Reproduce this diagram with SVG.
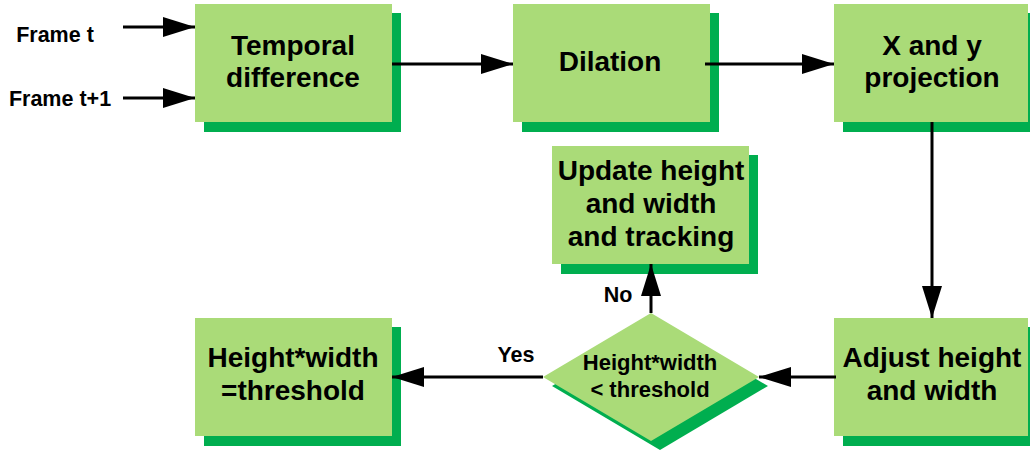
<svg xmlns="http://www.w3.org/2000/svg" width="1030" height="452" viewBox="0 0 1030 452">
  <defs>
    <style>
      .box { fill: #AADB78; }
      .shadow { fill: #00AE4F; }
      .lbl { font-family: "Liberation Sans", Arial, sans-serif; font-weight: bold; fill: #000; text-anchor: middle; }
      .big { font-size: 28px; }
      .mid { font-size: 22px; }
      .small { font-size: 21.5px; }
      .wire { stroke: #000; stroke-width: 3; fill: none; marker-end: url(#head); }
    </style>
    <marker id="head" markerUnits="userSpaceOnUse" markerWidth="32" markerHeight="20" refX="32" refY="10" orient="auto">
      <path d="M0,0 L32,10 L0,20 Z" fill="#000"/>
    </marker>
  </defs>

  <rect width="1030" height="452" fill="#fff"/>

  <!-- input labels -->
  <text class="lbl small" x="55" y="42">Frame t</text>
  <text class="lbl small" x="60" y="106">Frame t+1</text>

  <g id="temporal">
    <rect class="shadow" x="204" y="13" width="197" height="119"/>
    <rect class="box" x="195" y="4" width="197" height="118"/>
    <text class="lbl big" x="293" y="55">Temporal</text>
    <text class="lbl big" x="293" y="87">difference</text>
  </g>

  <g id="dilation">
    <rect class="shadow" x="522" y="13" width="197" height="119"/>
    <rect class="box" x="513" y="4" width="197" height="118"/>
    <text class="lbl big" x="610" y="71">Dilation</text>
  </g>

  <g id="projection">
    <rect class="shadow" x="843" y="13" width="197" height="119"/>
    <rect class="box" x="834" y="4" width="194" height="118"/>
    <text class="lbl big" x="932" y="55">X and y</text>
    <text class="lbl big" x="932" y="87">projection</text>
  </g>

  <g id="update">
    <rect class="shadow" x="561" y="155" width="197" height="119"/>
    <rect class="box" x="552" y="146" width="197" height="118"/>
    <text class="lbl big" x="651" y="180">Update height</text>
    <text class="lbl big" x="651" y="213">and width</text>
    <text class="lbl big" x="651" y="246">and tracking</text>
  </g>

  <g id="decision">
    <polygon class="shadow" points="660,322 768,386 660,450 552,386"/>
    <polygon class="box" points="651,313 759,377 651,441 543,377"/>
    <text class="lbl mid" x="650" y="370">Height*width</text>
    <text class="lbl mid" x="650" y="397">&lt; threshold</text>
  </g>

  <g id="threshold">
    <rect class="shadow" x="204" y="327" width="197" height="119"/>
    <rect class="box" x="195" y="318" width="197" height="118"/>
    <text class="lbl big" x="293" y="367">Height*width</text>
    <text class="lbl big" x="293" y="400">=threshold</text>
  </g>

  <g id="adjust">
    <rect class="shadow" x="843" y="327" width="197" height="119"/>
    <rect class="box" x="834" y="318" width="194" height="118"/>
    <text class="lbl big" x="932" y="367">Adjust height</text>
    <text class="lbl big" x="932" y="400">and width</text>
  </g>

  <g id="connectors">
    <line class="wire" x1="123" y1="27" x2="195" y2="27"/>
    <line class="wire" x1="123" y1="98" x2="195" y2="98"/>
    <line class="wire" x1="392" y1="64" x2="513" y2="64"/>
    <line class="wire" x1="705" y1="64" x2="834" y2="64"/>
    <line class="wire" x1="932" y1="122" x2="932" y2="318"/>
    <line class="wire" x1="836" y1="377" x2="759" y2="377"/>
    <line class="wire" x1="543" y1="377" x2="392" y2="377"/>
    <line class="wire" x1="651" y1="313" x2="651" y2="264"/>
    <text class="lbl small" x="516" y="362">Yes</text>
    <text class="lbl small" x="618" y="302">No</text>
  </g>
</svg>
